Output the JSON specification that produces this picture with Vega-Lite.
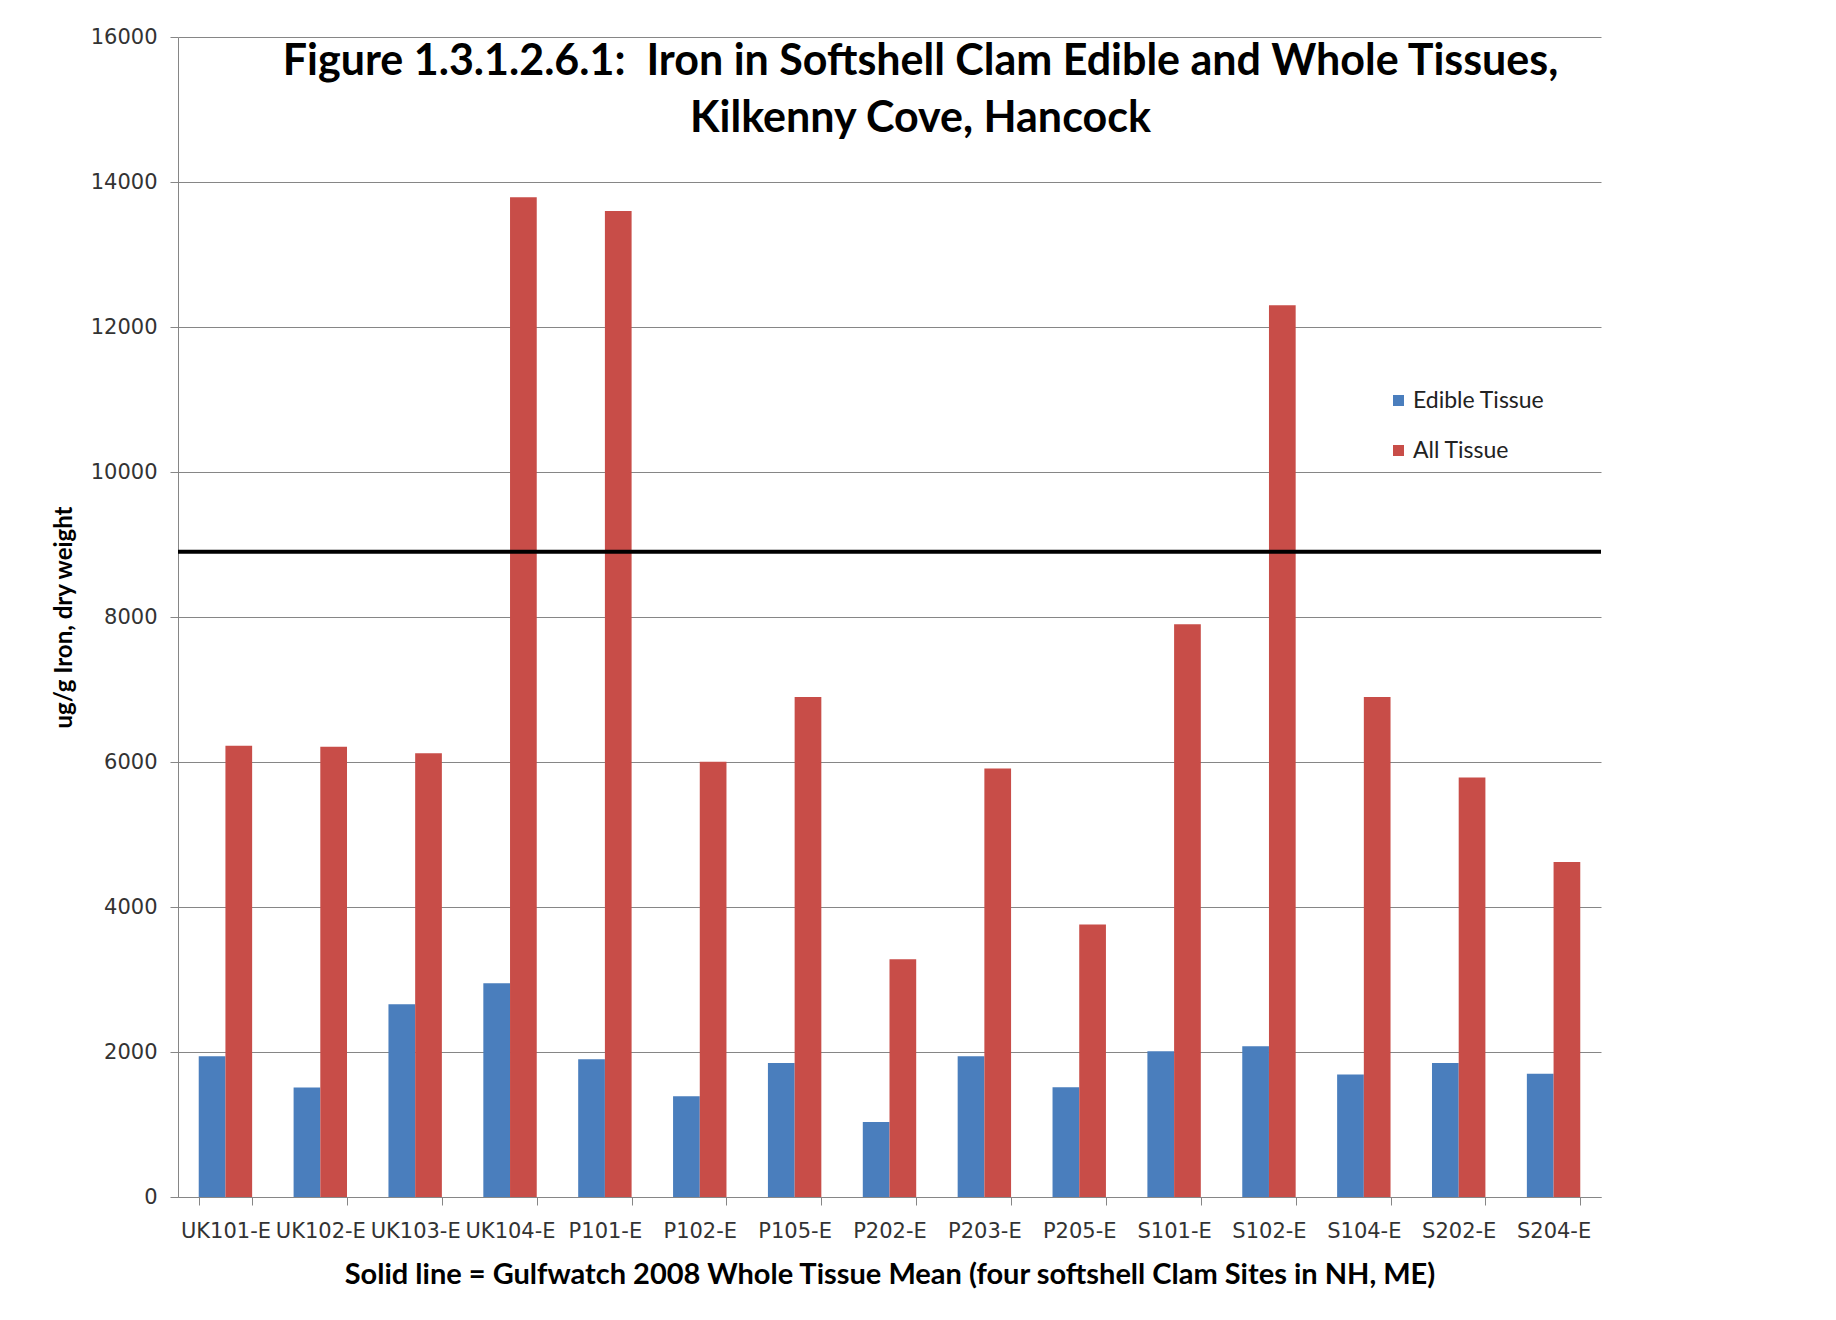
{
  "$schema": "https://vega.github.io/schema/vega-lite/v6.json",
  "autosize": {"type": "none"},
  "width": 1423,
  "height": 1160,
  "padding": {"left": 178, "top": 37, "right": 235, "bottom": 123},
  "background": "white",
  "datasets": {
    "bars": [
      {"site": "UK101-E", "tissue": "Edible Tissue", "value": 1940},
      {"site": "UK101-E", "tissue": "All Tissue", "value": 6225},
      {"site": "UK102-E", "tissue": "Edible Tissue", "value": 1510},
      {"site": "UK102-E", "tissue": "All Tissue", "value": 6210},
      {"site": "UK103-E", "tissue": "Edible Tissue", "value": 2660},
      {"site": "UK103-E", "tissue": "All Tissue", "value": 6120},
      {"site": "UK104-E", "tissue": "Edible Tissue", "value": 2950},
      {"site": "UK104-E", "tissue": "All Tissue", "value": 13790},
      {"site": "P101-E", "tissue": "Edible Tissue", "value": 1900},
      {"site": "P101-E", "tissue": "All Tissue", "value": 13600},
      {"site": "P102-E", "tissue": "Edible Tissue", "value": 1390},
      {"site": "P102-E", "tissue": "All Tissue", "value": 6005},
      {"site": "P105-E", "tissue": "Edible Tissue", "value": 1850},
      {"site": "P105-E", "tissue": "All Tissue", "value": 6895},
      {"site": "P202-E", "tissue": "Edible Tissue", "value": 1035},
      {"site": "P202-E", "tissue": "All Tissue", "value": 3280},
      {"site": "P203-E", "tissue": "Edible Tissue", "value": 1940},
      {"site": "P203-E", "tissue": "All Tissue", "value": 5910},
      {"site": "P205-E", "tissue": "Edible Tissue", "value": 1515},
      {"site": "P205-E", "tissue": "All Tissue", "value": 3760},
      {"site": "S101-E", "tissue": "Edible Tissue", "value": 2010},
      {"site": "S101-E", "tissue": "All Tissue", "value": 7900},
      {"site": "S102-E", "tissue": "Edible Tissue", "value": 2080},
      {"site": "S102-E", "tissue": "All Tissue", "value": 12300},
      {"site": "S104-E", "tissue": "Edible Tissue", "value": 1690},
      {"site": "S104-E", "tissue": "All Tissue", "value": 6895},
      {"site": "S202-E", "tissue": "Edible Tissue", "value": 1850},
      {"site": "S202-E", "tissue": "All Tissue", "value": 5785},
      {"site": "S204-E", "tissue": "Edible Tissue", "value": 1700},
      {"site": "S204-E", "tissue": "All Tissue", "value": 4620}
    ],
    "mean": [{"label": "Gulfwatch 2008 Whole Tissue Mean", "value": 8900}]
  },
  "title": {
    "text": ["Figure 1.3.1.2.6.1:\u00a0\u00a0Iron in Softshell Clam Edible and Whole Tissues,", "Kilkenny Cove, Hancock"],
    "font": "Lato",
    "fontSize": 43,
    "fontWeight": "bold",
    "color": "black",
    "anchor": "middle",
    "frame": "group",
    "baseline": "top",
    "lineHeight": 57,
    "dx": 31,
    "offset": -115
  },
  "layer": [
    {
      "data": {"name": "bars"},
      "mark": {"type": "bar"},
      "encoding": {
        "x": {
          "field": "site",
          "type": "nominal",
          "sort": null,
          "scale": {"paddingInner": 0.437, "paddingOuter": 0.2185},
          "axis": {
            "title": "Solid line = Gulfwatch 2008 Whole Tissue Mean (four softshell Clam Sites in NH, ME)",
            "titleFont": "Lato",
            "titleFontSize": 29,
            "titleFontWeight": "bold",
            "titleColor": "black",
            "titlePadding": 19,
            "labelAngle": 0,
            "labelFont": "DejaVu Sans",
            "labelFontSize": 21,
            "labelColor": "#333333",
            "labelPadding": 15,
            "tickBand": "extent",
            "tickSize": 8,
            "tickColor": "#868686",
            "domainColor": "#868686",
            "grid": false
          }
        },
        "xOffset": {
          "field": "tissue",
          "type": "nominal",
          "sort": ["Edible Tissue", "All Tissue"],
          "scale": {"paddingInner": 0, "paddingOuter": 0}
        },
        "y": {
          "field": "value",
          "type": "quantitative",
          "scale": {"domain": [0, 16000], "nice": false},
          "axis": {
            "title": "ug/g Iron, dry weight",
            "titleFont": "Lato",
            "titleFontSize": 24,
            "titleFontWeight": "bold",
            "titleColor": "black",
            "titlePadding": 14,
            "values": [0, 2000, 4000, 6000, 8000, 10000, 12000, 14000, 16000],
            "format": "d",
            "labelFont": "DejaVu Sans",
            "labelFontSize": 21,
            "labelColor": "#333333",
            "labelPadding": 13,
            "tickSize": 8,
            "tickColor": "#868686",
            "domainColor": "#868686",
            "gridColor": "#868686",
            "gridWidth": 1
          }
        },
        "color": {
          "field": "tissue",
          "type": "nominal",
          "sort": ["Edible Tissue", "All Tissue"],
          "scale": {"domain": ["Edible Tissue", "All Tissue"], "range": ["#4a7ebd", "#c84d48"]},
          "legend": {
            "title": null,
            "orient": "none",
            "legendX": 1209,
            "legendY": 352,
            "symbolType": "square",
            "symbolSize": 121,
            "labelFont": "Lato",
            "labelFontSize": 23,
            "labelColor": "#222222",
            "labelOffset": 3,
            "rowPadding": 26,
            "encode": {
              "symbols": {
                "update": {
                  "fill": {"signal": "datum.value === 'Edible Tissue' ? '#808080' : '#a64a5f'"},
                  "stroke": {"value": "transparent"}
                }
              }
            }
          }
        }
      }
    },
    {
      "data": {"name": "mean"},
      "mark": {"type": "rule", "color": "black", "strokeWidth": 4},
      "encoding": {
        "y": {"field": "value", "type": "quantitative"}
      }
    }
  ],
  "config": {
    "view": {"stroke": null}
  }
}
